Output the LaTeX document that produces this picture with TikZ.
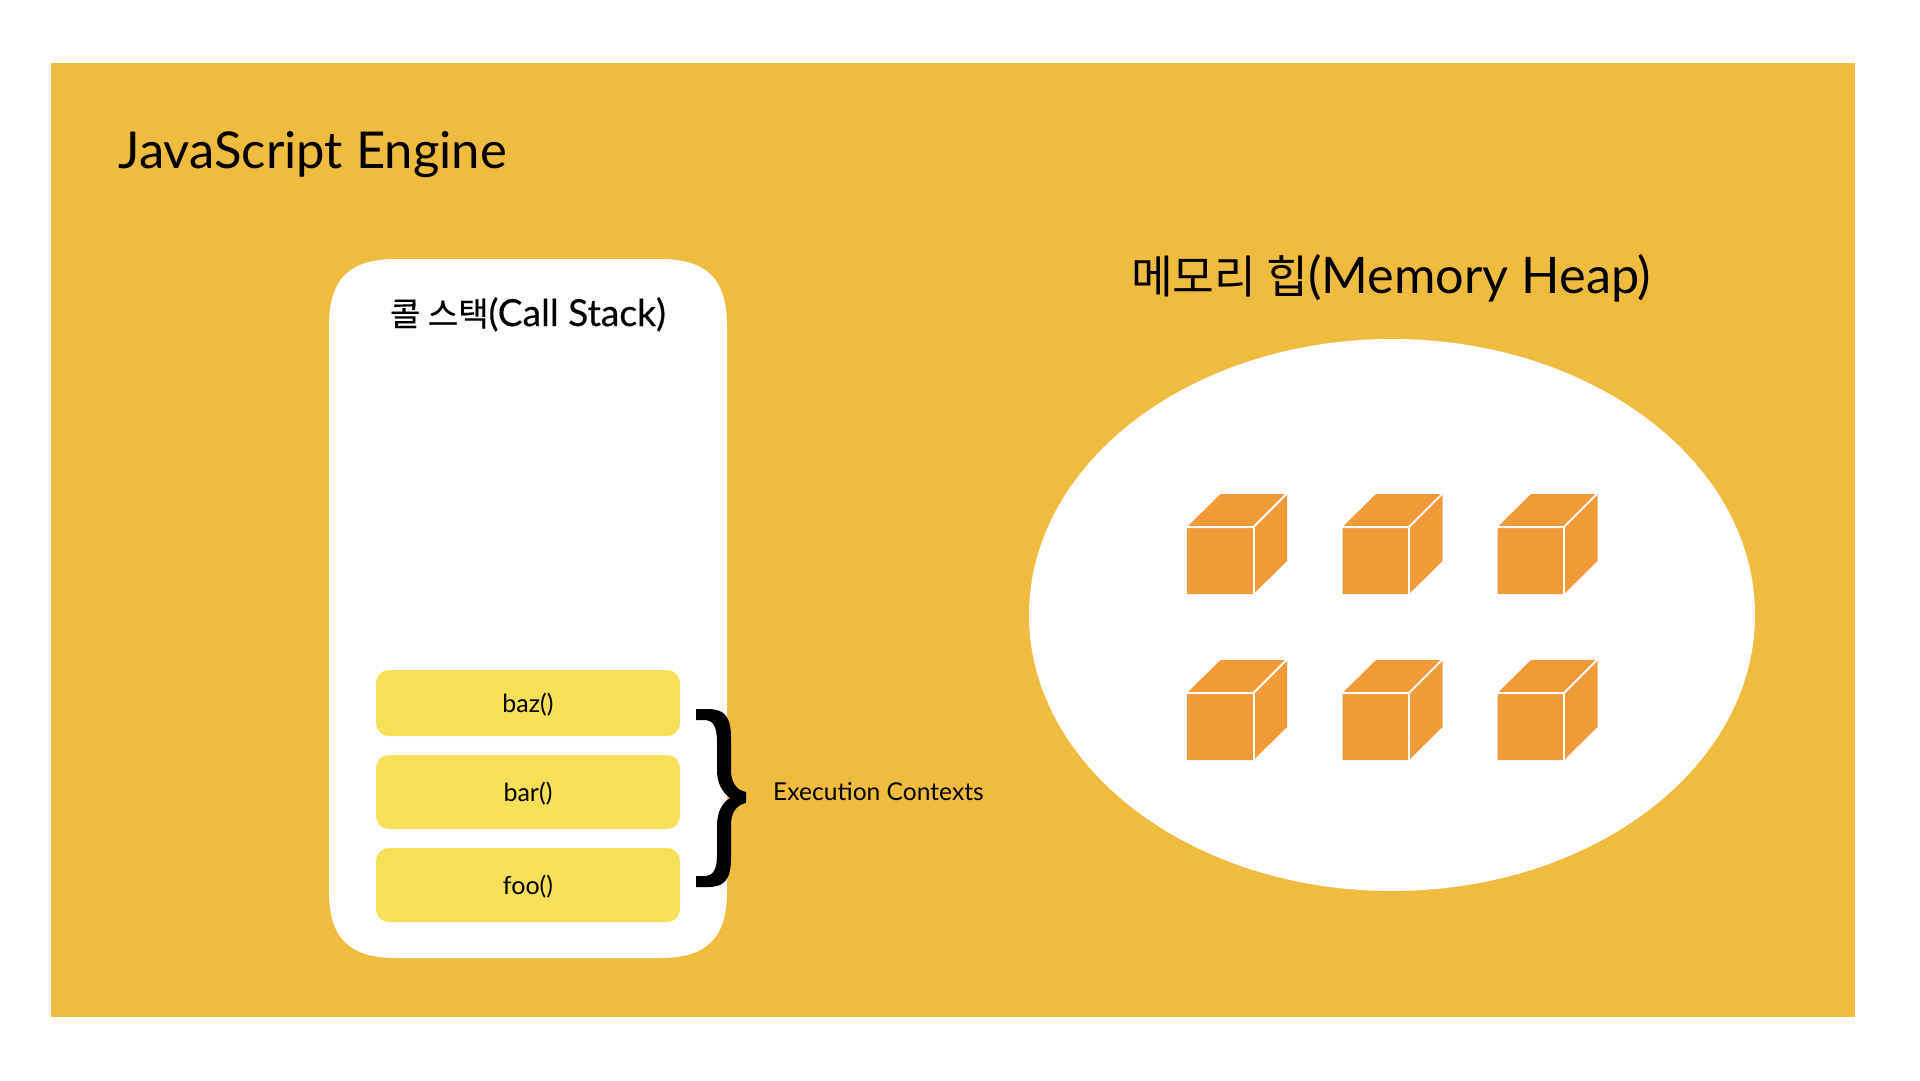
\documentclass[tikz,border=0pt]{standalone}
\usepackage{fontspec}
\setmainfont{Lato}
\newfontfamily\cjk{Noto Sans CJK KR}
\definecolor{panelc}{HTML}{EFBC40}
\definecolor{yellowc}{HTML}{F6E058}
\definecolor{orangec}{HTML}{F19A38}
\newcommand{\fsz}[1]{\fontsize{#1}{#1}\selectfont}
\newcommand{\lowered}[1]{\raisebox{-9pt}[0pt][0pt]{#1}}
\tikzset{
  panelbox/.style={fill=panelc,draw=none,inner sep=0pt,minimum width=1804pt,minimum height=954pt},
  yellowbox/.style={fill=yellowc,draw=none,rounded corners=13pt,inner sep=0pt,minimum width=304pt,font=\fsz{25}},
  heapblob/.style={ellipse,fill=white,draw=none,inner sep=0pt,minimum width=726pt,minimum height=552pt},
  title/.style={inner sep=0pt,text=black}
}
\usetikzlibrary{shapes.geometric}
\begin{document}
\begin{tikzpicture}[x=1pt,y=-1pt]
\useasboundingbox (0,0) rectangle (1920,1080);
\fill[white] (0,0) rectangle (1920,1080);
\node[panelbox] (panel) at (953,540) {};
\node[title,anchor=base west,font=\fsz{50.8}] (engine) at (118.5,168) {JavaScript Engine};
% call stack
\fill[white] (329,326) .. controls (329,279) and (349,259) .. (396,259)
  -- (660,259) .. controls (707,259) and (727,279) .. (727,326)
  -- (727,891) .. controls (727,938) and (707,958) .. (660,958)
  -- (396,958) .. controls (349,958) and (329,938) .. (329,891) -- cycle;
\node[title,anchor=base,font={\fsz{37.2}\addfontfeature{FakeBold=0.4}}] (stacktitle) at (528,326) {{\cjk\fsz{33}\addfontfeature{FakeBold=0.4} 콜 스택}(Call Stack)};
\node[yellowbox,minimum height=66pt] (baz) at (528,703) {\lowered{baz()}};
\node[yellowbox,minimum height=74pt] (bar) at (528,792) {\lowered{bar()}};
\node[yellowbox,minimum height=74pt] (foo) at (528,885) {\lowered{foo()}};
% brace
\fill[black] (696,709) -- (708,709) .. controls (724,709) and (731,716) .. (731,738)
  -- (731,770) .. controls (731,782) and (736,790) .. (746,792)
  -- (746,803) .. controls (736,805) and (731,813) .. (731,825)
  -- (731,858) .. controls (731,880) and (724,887) .. (708,887)
  -- (696,887) -- (696,876) -- (704,876) .. controls (713,876) and (717,870) .. (717,855)
  -- (717,826) .. controls (717,812) and (722,803) .. (730,798)
  .. controls (722,792) and (717,783) .. (717,770)
  -- (717,742) .. controls (717,726) and (713,720) .. (704,720)
  -- (696,720) -- cycle;
\node[title,anchor=base west,font=\fsz{24.6}] (exec) at (773,800) {Execution Contexts};
% heap
\node[heapblob] (heap) at (1392,615) {};
\node[title,anchor=base,font=\fsz{50.4}] (heaptitle) at (1386,293) {{\cjk\fsz{45.4} 메모리 힙}(Memory Heap)};
\foreach \cx in {1187,1342.5,1497.5}{
  \foreach \cy in {527,693}{
    \fill[orangec] (\cx,\cy) -- ++(33.5,-33) -- ++(66.5,0) -- ++(0,67) -- ++(-33.5,33) -- ++(-66.5,0) -- cycle;
    \draw[white,line width=2pt] (\cx,\cy) -- ++(66.5,0) -- ++(33,-33);
    \draw[white,line width=2pt] (\cx+66.5,\cy) -- ++(0,67);
  }
}
\end{tikzpicture}
\end{document}
